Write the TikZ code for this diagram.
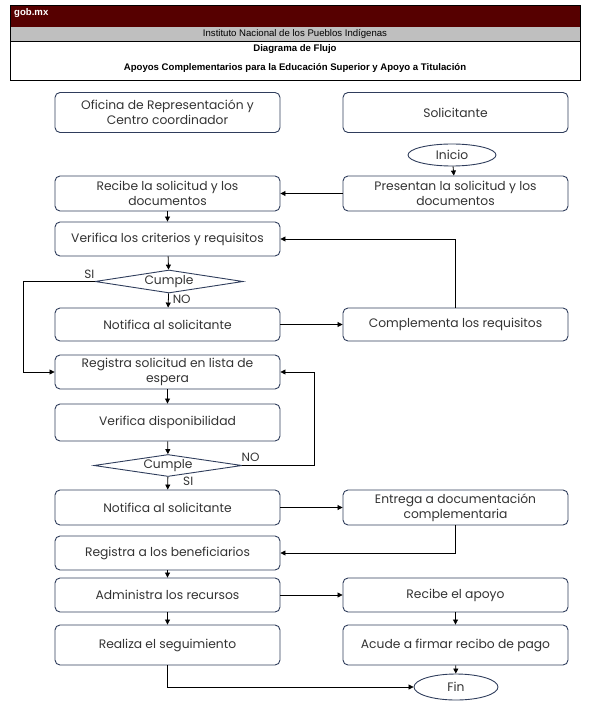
\documentclass[tikz,border=0pt]{standalone}
\usepackage{fontspec}
\setmainfont{Poppins}
\newfontfamily\arialf{Liberation Sans}
\usetikzlibrary{shapes.geometric,arrows.meta}
\definecolor{boxc}{HTML}{2F3D5C}
\definecolor{txtc}{HTML}{333333}
\definecolor{gobred}{HTML}{560000}
\definecolor{gobgray}{HTML}{BFBFBF}
\begin{document}
\begin{tikzpicture}[x=1pt,y=-1pt,
  box/.style={draw=boxc, line width=0.9pt, rounded corners=5pt, minimum width=225pt, align=center,
    font=\fontsize{12.3}{15}\selectfont, text=txtc, inner sep=2pt},
  dec/.style={draw=boxc, line width=0.9pt, diamond, aspect=6.3, minimum width=148pt, minimum height=23pt, inner sep=0pt,
    font=\fontsize{12.3}{14}\selectfont, text=txtc},
  term/.style={draw=boxc, line width=0.9pt, ellipse, minimum width=88pt, minimum height=22pt, inner sep=0pt,
    font=\fontsize{12.3}{14}\selectfont, text=txtc},
  arr/.style={draw=black, line width=0.8pt, -{Triangle[length=5pt,width=5pt]}},
  lbl/.style={font=\fontsize{12}{14}\selectfont, text=txtc, inner sep=1pt},
  hdr/.style={font=\arialf\fontsize{9.6}{11}\selectfont, inner sep=0pt},
  hdrb/.style={font=\arialf\bfseries\fontsize{9.6}{11}\selectfont, inner sep=0pt}
]
\useasboundingbox (0,0) rectangle (590,708);
% header
\fill[gobred] (10,5) rectangle (580,27);
\fill[gobgray] (10,27) rectangle (580,41.5);
\draw[line width=0.6pt] (10,5) rectangle (580,80);
\draw[line width=0.6pt] (10,41.5) -- (580,41.5);
\node[hdrb, anchor=west, text=white] (gob) at (14,13) {gob.mx};
\node[hdr] (inst) at (295,34) {Instituto Nacional de los Pueblos Indígenas};
\node[hdrb] (tit1) at (295,49.5) {Diagrama de Flujo};
\node[hdrb] (tit2) at (295,68) {Apoyos Complementarios para la Educación Superior y Apoyo a Titulación};

% lanes
\node[box, minimum height=40pt] (oficina) at (167.5,112.5) {Oficina de Representación y\\Centro coordinador};
\node[box, minimum height=40pt] (solic) at (455.5,112.5) {Solicitante};
\node[term] (inicio) at (452,155) {Inicio};
\node[box, minimum height=35pt] (recibe) at (167.5,193.5) {Recibe la solicitud y los\\documentos};
\node[box, minimum height=35pt] (presentan) at (455.5,193.5) {Presentan la solicitud y los\\documentos};
\node[box, minimum height=34pt] (verifica) at (167.5,239) {Verifica los criterios y requisitos};
\node[dec] (cumple1) at (169,281.5) {Cumple};
\node[box, minimum height=33pt] (notifica1) at (167.5,324.5) {Notifica al solicitante};
\node[box, minimum height=33pt] (complementa) at (455.5,324.5) {Complementa los requisitos};
\node[box, minimum height=34pt] (registra) at (167.5,372) {Registra solicitud en lista de\\espera};
\node[box, minimum height=37pt] (verifdisp) at (167.5,422.5) {Verifica disponibilidad};
\node[dec, minimum height=22pt] (cumple2) at (168,465.5) {Cumple};
\node[box, minimum height=35pt] (notifica2) at (167.5,507.5) {Notifica al solicitante};
\node[box, minimum height=35pt] (entrega) at (455.5,507.5) {Entrega a documentación\\complementaria};
\node[box, minimum height=34pt] (registrab) at (167.5,553) {Registra a los beneficiarios};
\node[box, minimum height=34pt] (administra) at (167.5,595) {Administra los recursos};
\node[box, minimum height=34pt] (recibeap) at (455.5,595) {Recibe el apoyo};
\node[box, minimum height=40pt] (realiza) at (167.5,645) {Realiza el seguimiento};
\node[box, minimum height=40pt] (acude) at (455.5,645) {Acude a firmar recibo de pago};
\node[term, minimum width=84pt, minimum height=26pt] (fin) at (456,687) {Fin};

% connectors
\draw[arr] (inicio) -- (presentan);
\draw[arr] (presentan) -- (recibe);
\draw[arr] (recibe) -- (verifica);
\draw[arr] (verifica) -- (cumple1);
\draw[arr] (cumple1) -- (notifica1) node[lbl, pos=0.4, anchor=west, xshift=3pt] (no1) {NO};
\draw[arr] (cumple1.west) -- ++(-71,0) |- (registra.west);
\node[lbl, anchor=south east] (si1) at ([xshift=1pt,yshift=2pt]cumple1.west) {SI};
\draw[arr] (notifica1) -- (complementa);
\draw[arr] (complementa.north) |- (verifica.east);
\draw[arr] (registra) -- (verifdisp);
\draw[arr] (verifdisp) -- (cumple2);
\draw[arr] (cumple2.east) -- ++(72,0) |- (registra.east);
\node[lbl, anchor=south west] (no2) at ([xshift=-2pt,yshift=3pt]cumple2.east) {NO};
\draw[arr] (cumple2) -- (notifica2) node[lbl, pos=0.35, anchor=west, xshift=14pt] (si2) {SI};
\draw[arr] (notifica2) -- (entrega);
\draw[arr] (entrega.south) |- (registrab.east);
\draw[arr] (registrab) -- (administra);
\draw[arr] (administra) -- (realiza);
\draw[arr] (administra) -- (recibeap);
\draw[arr] (recibeap) -- (acude);
\draw[arr] (acude) -- (fin);
\draw[arr] (realiza.south) |- (fin.west);
\end{tikzpicture}
\end{document}
